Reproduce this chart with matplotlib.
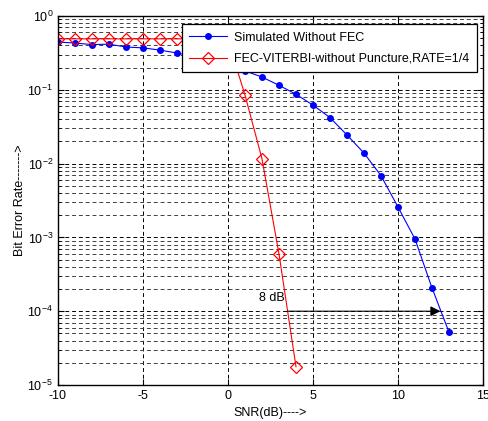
import matplotlib
matplotlib.use("Agg")
import matplotlib.pyplot as plt
import matplotlib.ticker as mticker

plt.rcParams['font.family'] = ['Liberation Sans', 'DejaVu Sans']
plt.rcParams['mathtext.default'] = 'regular'
plt.rcParams['axes.unicode_minus'] = False

# --------- data ---------
snr_uncoded = [-10, -9, -8, -7, -6, -5, -4, -3, -2, -1, 0, 1, 2, 3, 4, 5, 6, 7, 8, 9, 10, 11, 12, 13]
ber_uncoded = [0.444, 0.43, 0.41, 0.415, 0.38, 0.37, 0.345, 0.315, 0.285, 0.25, 0.215,
               0.18, 0.149, 0.115, 0.087, 0.062, 0.042, 0.0244, 0.0139, 0.00686,
               0.00258, 9.5e-4, 2.07e-4, 5.2e-5]

snr_fec = [-10, -9, -8, -7, -6, -5, -4, -3, -2, -1, 0, 1, 2, 3, 4]
ber_fec = [0.49, 0.49, 0.49, 0.49, 0.49, 0.49, 0.49, 0.49, 0.49, 0.49, 0.47,
           0.085, 0.0116, 5.96e-4, 1.77e-5]

legend_labels = ["Simulated Without FEC", "FEC-VITERBI-without Puncture,RATE=1/4"]
gain_text = "8 dB"
gain_start, gain_end, gain_level = 3.5, 12.5, 1e-4

fig = plt.figure(figsize=(4.89, 4.21), dpi=100)
ax = fig.add_axes([0.1186, 0.0855, 0.8691, 0.8765])

ax.semilogy(snr_uncoded, ber_uncoded, marker='o', linestyle='-', color='blue',
            markersize=4, linewidth=0.8, label=legend_labels[0])
ax.semilogy(snr_fec, ber_fec, marker='D', linestyle='-', color='red',
            markersize=6, markerfacecolor='none', markeredgewidth=0.9,
            linewidth=0.8, label=legend_labels[1])

ax.set_xlim(-10, 15)
ax.set_ylim(1e-5, 1)
ax.set_xticks([-10, -5, 0, 5, 10, 15])
ax.yaxis.set_major_locator(mticker.LogLocator(base=10, numticks=10))
ax.yaxis.set_minor_locator(mticker.LogLocator(base=10, subs=range(2, 10), numticks=20))
ax.yaxis.set_minor_formatter(mticker.NullFormatter())

ax.grid(True, which='major', axis='both', color='black', linestyle=(0, (4, 3)), linewidth=0.7)
ax.grid(True, which='minor', axis='y', color='0.25', linestyle=(0, (4, 3)), linewidth=0.7)
ax.tick_params(which='both', direction='in', top=True, right=True, labelsize=9)
ax.tick_params(which='major', length=4)
ax.tick_params(which='minor', length=2)
for s in ax.spines.values():
    s.set_linewidth(1.0)

ax.set_xlabel("SNR(dB)---->", fontsize=9)
ax.set_ylabel("Bit Error Rate------->", fontsize=9, labelpad=1)

ax.annotate("", xy=(gain_end, gain_level), xytext=(gain_start, gain_level),
            arrowprops=dict(arrowstyle='-|>', color='black', lw=0.8,
                            mutation_scale=15, shrinkA=0, shrinkB=0))
ax.text(1.8, 1.25e-4, gain_text, fontsize=9, va='bottom', ha='left')

leg = ax.legend(loc='upper right', bbox_to_anchor=(0.986, 0.978), borderaxespad=0,
                fontsize=9, fancybox=False, framealpha=1, edgecolor='black',
                borderpad=0.6, labelspacing=0.75, handlelength=3.0, handletextpad=0.6)
leg.get_frame().set_linewidth(0.9)

fig.savefig("out.png", dpi=100)
